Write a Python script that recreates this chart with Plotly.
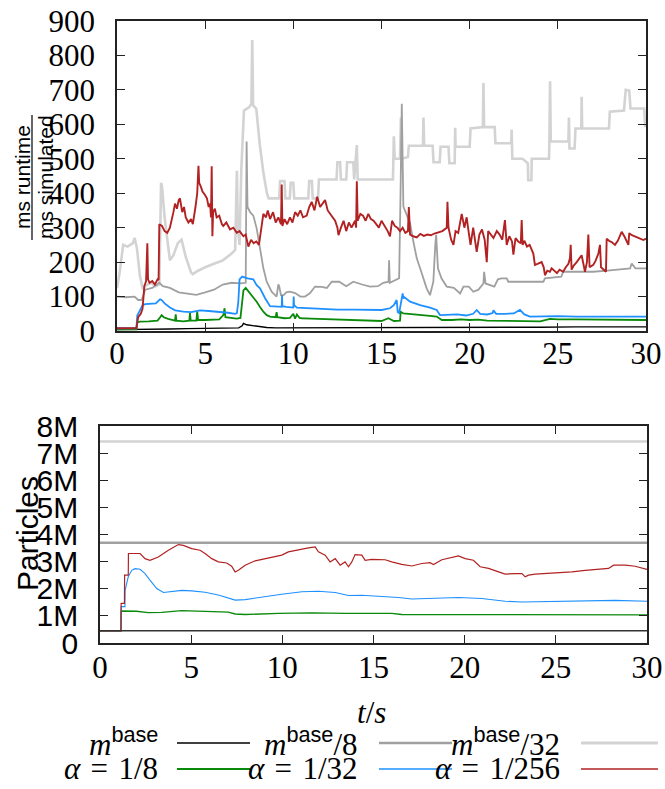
import plotly.graph_objects as go

W, H = 665, 789

# ---------------- top panel: runtime ratio (ms runtime / ms simulated) ----------------
T_M32 = [0, 0.15, 0.35, 0.6, 0.9, 1.0, 1.13, 1.3, 1.45, 1.6,
         1.9, 2.2, 2.4, 2.5, 2.55, 2.7, 3.0, 3.2, 3.45, 3.66,
         3.9, 4.2, 4.3, 4.6, 5.0, 5.5, 6.0, 6.5, 6.7, 6.8,
         6.85, 6.95, 7.05, 7.2, 7.5, 7.62, 7.67, 7.72, 7.9, 8.1,
         8.3, 8.5, 8.6, 9.2, 9.25, 9.5, 9.55, 9.8, 9.85, 10.0,
         10.05, 10.85, 10.9, 11.05, 11.1, 11.4, 11.45, 12.45, 12.5, 12.65,
         12.7, 13.0, 13.05, 13.4, 13.45, 13.6, 13.65, 15.65, 15.7, 15.75,
         16.05, 16.1, 16.15, 16.5, 16.55, 17.35, 17.38, 17.42, 17.9, 17.95,
         18.3, 18.35, 18.8, 18.85, 19.15, 19.18, 19.2, 20.0, 20.05, 20.75,
         20.78, 20.82, 21.42, 21.46, 22.36, 22.38, 22.42, 23.0, 23.3, 23.32,
         23.5, 23.52, 24.5, 24.52, 24.56, 24.6, 25.6, 25.63, 25.66, 25.95,
         26.0, 26.33, 26.35, 26.38, 27.9, 27.95, 28.75, 28.85, 29.05, 29.12,
         29.9, 29.95, 30.0]
V_M32 = [125, 170, 250, 245, 255, 270, 240, 160, 125, 130,
         140, 130, 135, 430, 420, 330, 205, 220, 255, 265,
         215, 170, 165, 175, 185, 195, 205, 225, 235, 465,
         300, 250, 470, 640, 650, 660, 845, 655, 645, 540,
         460, 400, 385, 385, 435, 435, 385, 385, 430, 430,
         385, 385, 435, 435, 385, 385, 440, 440, 490, 490,
         440, 440, 490, 490, 440, 540, 440, 440, 565, 500,
         500, 620, 500, 505, 538, 538, 620, 538, 538, 490,
         490, 535, 535, 487, 487, 590, 535, 535, 588, 592,
         720, 592, 592, 545, 545, 585, 500, 500, 487, 438,
         438, 500, 500, 550, 725, 550, 550, 620, 530, 530,
         588, 588, 680, 588, 588, 637, 640, 700, 698, 646,
         646, 595, 595]

T_M8 = [0, 0.5, 1.0, 1.2, 1.4, 1.6, 2.0, 2.4, 2.6, 3.0,
        3.5, 4.0, 4.5, 5.0, 5.5, 6.0, 6.5, 7.0, 7.3, 7.35,
        7.4, 7.55, 7.73, 7.92, 8.11, 8.3, 8.49, 8.77, 9.05, 9.15,
        9.2, 9.3, 9.45, 9.6, 9.8, 10.1, 10.4, 10.66, 10.95, 11.23,
        11.6, 11.9, 12.18, 12.6, 13.0, 13.4, 13.9, 14.35, 14.8, 15.1,
        15.4, 15.43, 15.47, 15.7, 16.0, 16.08, 16.15, 16.24, 16.43, 16.62,
        16.81, 17.0, 17.19, 17.38, 17.56, 17.75, 17.94, 18.05, 18.1, 18.2,
        18.4, 18.7, 19.1, 19.46, 19.65, 19.95, 20.21, 20.5, 20.78, 20.82,
        20.9, 21.4, 21.6, 21.8, 22.1, 22.19, 23.0, 24.18, 24.27, 25.2,
        25.3, 27.0, 27.8, 29.0, 29.1, 29.19, 29.4, 30.0]
V_M8 = [100, 98, 100, 90, 90, 120, 125, 140, 130, 125,
        112, 108, 105, 112, 120, 135, 140, 138, 140, 550,
        360, 345, 335, 298, 240, 182, 143, 114, 100, 135,
        130, 104, 104, 112, 114, 110, 100, 100, 110, 129,
        128, 125, 143, 143, 130, 143, 135, 129, 130, 140,
        143, 205, 140, 145, 153, 400, 660, 361, 337, 313,
        259, 211, 182, 153, 124, 104, 143, 250, 279, 182,
        153, 129, 125, 109, 129, 129, 114, 120, 138, 172,
        138, 129, 150, 153, 153, 143, 143, 143, 153, 158,
        172, 172, 175, 182, 182, 196, 182, 182]

T_BASE = [0, 1.0, 2.0, 3.0, 4.0, 5.0, 6.0, 6.9, 7.1, 7.17,
          7.35, 7.73, 8.11, 8.49, 9.0, 10.0, 12.0, 14.0, 16.0, 18.0,
          20.0, 22.0, 24.0, 26.0, 28.0, 30.0]
V_BASE = [4, 4, 6, 6, 7, 7, 8, 9, 15, 22,
          18, 15, 12, 10, 9, 9, 9, 9, 10, 10,
          10, 11, 11, 12, 12, 12]

T_A8 = [0, 1.1, 1.15, 1.3, 1.8, 2.3, 2.45, 2.53, 2.65, 2.9,
        3.29, 3.33, 3.37, 3.76, 4.1, 4.14, 4.18, 4.5, 4.55, 4.6,
        5.0, 5.28, 5.5, 5.8, 6.03, 6.1, 6.15, 6.4, 6.79, 7.0,
        7.1, 7.17, 7.3, 7.54, 7.73, 7.92, 8.11, 8.3, 8.49, 8.68,
        9.0, 9.05, 9.1, 9.5, 9.81, 10.0, 10.1, 10.2, 10.35, 10.5,
        11.0, 12.0, 13.0, 14.0, 15.0, 15.39, 15.7, 16.05, 16.09, 16.24,
        16.8, 17.19, 17.75, 18.13, 18.42, 19.0, 19.5, 20.0, 20.5, 21.0,
        22.0, 22.85, 23.5, 24.0, 24.56, 25.0, 26.0, 27.0, 28.0, 29.0,
        30.0]
V_A8 = [5, 5, 25, 27, 28, 30, 40, 46, 40, 35,
        30, 48, 30, 28, 30, 52, 30, 30, 56, 32,
        32, 32, 33, 34, 46, 66, 40, 38, 36, 38,
        95, 118, 125, 110, 100, 85, 70, 56, 46, 42,
        40, 55, 40, 37, 38, 50, 36, 48, 38, 37,
        36, 34, 32, 30, 29, 37, 29, 30, 56, 51,
        49, 46, 44, 42, 32, 32, 34, 32, 33, 30,
        29, 27, 27, 28, 35, 34, 34, 33, 32, 32,
        32]

T_A32 = [0, 1.1, 1.15, 1.3, 1.45, 1.6, 1.9, 2.2, 2.44, 2.53,
         2.7, 3.0, 3.3, 3.76, 4.2, 4.71, 5.2, 5.84, 6.3, 6.7,
         6.8, 6.88, 6.95, 7.1, 7.4, 7.73, 7.92, 8.11, 8.4, 8.68,
         9.0, 9.34, 9.36, 9.38, 9.6, 9.9, 10.0, 10.02, 10.04, 10.2,
         10.8, 11.5, 12.5, 13.5, 14.35, 15.0, 15.48, 15.7, 15.86, 15.92,
         16.0, 16.1, 16.2, 16.24, 16.3, 16.62, 17.19, 17.75, 18.13, 18.32,
         18.8, 19.3, 19.8, 20.2, 20.4, 20.6, 21.0, 21.3, 21.35, 21.5,
         22.0, 22.5, 22.85, 23.1, 23.42, 24.0, 25.0, 26.0, 27.0, 28.0,
         29.0, 30.0]
V_A32 = [8, 8, 45, 62, 75, 78, 80, 80, 92, 90,
         80, 68, 60, 56, 55, 60, 58, 56, 53, 50,
         52, 85, 150, 158, 153, 150, 133, 124, 95, 72,
         71, 70, 104, 72, 70, 68, 68, 100, 75, 68,
         66, 64, 62, 62, 61, 61, 66, 75, 90, 55,
         52, 80, 109, 95, 98, 85, 75, 68, 61, 46,
         46, 48, 45, 50, 61, 50, 48, 52, 60, 50,
         50, 51, 61, 48, 42, 43, 43, 42, 42, 42,
         42, 42]

T_A256 = [0, 1.1, 1.2, 1.35, 1.45, 1.55, 1.65, 1.7, 1.72, 1.76,
          1.85, 2.0, 2.15, 2.3, 2.36, 2.4, 2.55, 2.7, 2.85, 3.0,
          3.1, 3.2, 3.29, 3.4, 3.5, 3.57, 3.7, 3.8, 3.9, 4.05,
          4.2, 4.3, 4.45, 4.55, 4.62, 4.66, 4.75, 4.85, 4.99, 5.1,
          5.2, 5.28, 5.33, 5.37, 5.41, 5.45, 5.55, 5.65, 5.8, 5.95,
          6.03, 6.2, 6.41, 6.6, 6.79, 6.95, 7.17, 7.3, 7.45, 7.6,
          7.75, 7.9, 8.05, 8.15, 8.3, 8.45, 8.55, 8.68, 8.85, 9.0,
          9.15, 9.3, 9.34, 9.38, 9.5, 9.65, 9.81, 9.95, 10.1, 10.25,
          10.4, 10.55, 10.76, 10.9, 11.04, 11.2, 11.35, 11.52, 11.65, 11.8,
          11.95, 12.1, 12.25, 12.37, 12.5, 12.56, 12.7, 12.85, 13.0, 13.15,
          13.3, 13.5, 13.56, 13.6, 13.65, 13.8, 13.95, 14.1, 14.25, 14.4,
          14.55, 14.7, 14.85, 15.0, 15.2, 15.35, 15.48, 15.6, 15.75, 15.9,
          16.05, 16.2, 16.35, 16.5, 16.55, 16.62, 16.8, 17.0, 17.2, 17.4,
          17.6, 17.8, 18.0, 18.2, 18.45, 18.7, 18.74, 18.8, 18.95, 19.08,
          19.2, 19.35, 19.55, 19.7, 19.83, 19.95, 20.05, 20.2, 20.4, 20.55,
          20.7, 20.85, 20.97, 21.05, 21.2, 21.35, 21.54, 21.7, 21.85, 22.0,
          22.1, 22.25, 22.4, 22.48, 22.6, 22.75, 22.9, 22.95, 23.0, 23.1,
          23.25, 23.4, 23.61, 23.7, 23.85, 24.08, 24.2, 24.27, 24.4, 24.55,
          24.65, 24.8, 24.95, 25.1, 25.3, 25.45, 25.6, 25.69, 25.73, 25.78,
          25.9, 26.07, 26.2, 26.35, 26.54, 26.65, 26.73, 26.8, 27.01, 27.15,
          27.3, 27.39, 27.45, 27.6, 27.73, 27.77, 27.9, 28.05, 28.24, 28.4,
          28.62, 28.8, 29.0, 29.05, 29.2, 29.5, 29.85, 30.0]
V_A256 = [8, 8, 40, 50, 65, 130, 145, 250, 255, 150,
          140, 145, 135, 150, 148, 310, 305, 290, 285, 300,
          320, 345, 370, 355, 380, 385, 345, 360, 330, 315,
          325, 310, 360, 400, 480, 430, 420, 405, 395, 385,
          360, 370, 330, 478, 275, 345, 355, 330, 335, 310,
          305, 315, 295, 300, 285, 290, 275, 280, 245, 265,
          255, 260, 250, 290, 340, 330, 350, 325, 345, 315,
          330, 310, 425, 305, 325, 310, 330, 315, 345, 335,
          350, 330, 335, 360, 375, 350, 390, 360, 370, 380,
          350, 340, 330, 320, 300, 278, 300, 320, 290, 315,
          300, 320, 300, 435, 320, 340, 335, 320, 340, 325,
          320, 310, 300, 320, 305, 290, 275, 320, 305, 300,
          290, 300, 285, 290, 360, 280, 275, 272, 282, 276,
          280, 278, 283, 286, 290, 300, 375, 300, 265, 250,
          290, 285, 340, 300, 330, 285, 250, 300, 230, 280,
          295, 265, 200, 290, 280, 270, 290, 280, 265, 322,
          250, 275, 260, 222, 270, 260, 255, 322, 250, 262,
          245, 250, 225, 192, 195, 200, 185, 162, 175, 172,
          182, 175, 168, 178, 172, 185, 195, 212, 250, 178,
          190, 200, 210, 220, 172, 200, 280, 185, 192, 205,
          225, 250, 185, 178, 172, 268, 262, 258, 250, 262,
          288, 272, 250, 284, 278, 272, 264, 268]

# ---------------- bottom panel: particles (millions) ----------------
PT_FLAT = [0, 30]
P_BASE = [0.45, 0.45]
P_M8 = [3.70, 3.70]
P_M32 = [7.43, 7.43]

PT_A8 = [0, 1.15, 1.16, 2.0, 2.65, 3.38, 4.48, 5.21, 6.13, 7.04,
         7.41, 7.96, 9.79, 11.61, 13.44, 14.54, 16.0, 16.55, 20.03, 22.77,
         26.0, 30.0]
P_A8 = [0.45, 0.45, 1.18, 1.17, 1.12, 1.13, 1.19, 1.17, 1.14, 1.14,
        1.07, 1.05, 1.09, 1.11, 1.09, 1.10, 1.09, 1.05, 1.05, 1.03,
        1.03, 1.04]

PT_A32 = [0, 1.15, 1.16, 1.37, 1.38, 1.55, 1.74, 1.92, 2.2, 2.47,
          2.74, 3.11, 3.48, 3.93, 4.48, 5.03, 5.76, 6.49, 7.04, 7.41,
          7.96, 8.87, 9.97, 11.07, 11.98, 12.9, 13.63, 14.36, 15.45, 16.37,
          17.1, 18.2, 19.66, 20.94, 22.22, 23.14, 24.6, 26.43, 28.26, 30.0]
P_A32 = [0.45, 0.45, 1.34, 1.34, 1.95, 2.44, 2.68, 2.74, 2.72, 2.56,
         2.32, 2.01, 1.86, 1.89, 1.94, 1.92, 1.87, 1.77, 1.64, 1.58,
         1.6, 1.7, 1.8, 1.89, 1.91, 1.86, 1.75, 1.76, 1.73, 1.68,
         1.62, 1.64, 1.68, 1.64, 1.54, 1.51, 1.53, 1.56, 1.57, 1.54]

PT_A256 = [0, 1.15, 1.16, 1.34, 1.35, 1.55, 1.56, 2.2, 2.47, 2.74,
           3.2, 3.75, 4.3, 4.57, 5.03, 5.49, 5.76, 6.13, 6.49, 6.95,
           7.22, 7.41, 7.59, 7.96, 8.51, 9.05, 9.6, 9.97, 10.33, 10.88,
           11.43, 11.8, 11.98, 12.35, 12.62, 12.9, 13.17, 13.44, 13.63, 13.81,
           13.99, 14.36, 14.54, 14.9, 15.28, 15.64, 16.0, 16.55, 17.1, 17.65,
           18.1, 18.29, 18.75, 19.3, 19.66, 20.03, 20.48, 20.85, 21.31, 21.86,
           22.22, 22.77, 23.14, 23.32, 23.5, 23.87, 24.42, 25.15, 25.88, 26.61,
           27.34, 27.89, 28.17, 28.81, 29.35, 29.72, 30.0]
P_A256 = [0.45, 0.45, 1.46, 1.46, 2.5, 2.5, 3.3, 3.3, 3.11, 3.05,
          3.17, 3.42, 3.63, 3.6, 3.48, 3.42, 3.30, 3.11, 2.99, 2.95,
          2.83, 2.62, 2.68, 2.87, 3.03, 3.11, 3.2, 3.24, 3.36, 3.44,
          3.51, 3.54, 3.36, 3.24, 2.99, 3.11, 2.87, 2.99, 2.81, 2.99,
          3.26, 3.24, 3.05, 3.08, 3.08, 3.07, 2.99, 2.9, 2.84, 2.93,
          2.96, 2.89, 3.07, 3.17, 3.21, 3.11, 3.05, 2.81, 2.75, 2.62,
          2.54, 2.56, 2.56, 2.44, 2.5, 2.54, 2.56, 2.6, 2.62, 2.68,
          2.71, 2.75, 2.87, 2.87, 2.83, 2.75, 2.71]

X_TICKS = [0, 5, 10, 15, 20, 25, 30]
Y1_TICKS = [0, 100, 200, 300, 400, 500, 600, 700, 800, 900]
Y2_TICKS = [0, 1, 2, 3, 4, 5, 6, 7, 8]
Y2_TICKTEXT = ["0", "1M", "2M", "3M", "4M", "5M", "6M", "7M", "8M"]

C_BASE = "#000000"
C_M8 = "#a0a0a0"
C_M32 = "#d3d3d3"
C_A8 = "#0a8a0a"
C_A32 = "#1e90ff"
C_A256 = "#b22222"

SERIF = "Liberation Serif, DejaVu Serif, serif"
SANS = "Liberation Sans, Arial, sans-serif"

fig = go.Figure()

def line(x, y, color, width, ax):
    xa, ya = ("x", "y") if ax == 1 else ("x2", "y2")
    fig.add_trace(go.Scatter(x=x, y=y, mode="lines", xaxis=xa, yaxis=ya,
                             line=dict(color=color, width=width),
                             showlegend=False, hoverinfo="skip"))

# top panel
line(T_M32, V_M32, C_M32, 2.6, 1)
line(T_M8, V_M8, C_M8, 1.8, 1)
line(T_BASE, V_BASE, C_BASE, 1.4, 1)
line(T_A8, V_A8, C_A8, 1.8, 1)
line(T_A32, V_A32, C_A32, 1.8, 1)
line(T_A256, V_A256, C_A256, 1.9, 1)

# bottom panel
line(PT_FLAT, P_M32, C_M32, 2.5, 2)
line(PT_FLAT, P_M8, C_M8, 2.5, 2)
line(PT_A8, P_A8, C_A8, 1.3, 2)
line(PT_A32, P_A32, C_A32, 1.1, 2)
line(PT_A256, P_A256, C_A256, 1.2, 2)
line(PT_FLAT, P_BASE, "#333333", 1.5, 2)

def px(x):
    return x / W

def py(y):
    return 1 - y / H

axis_common = dict(showline=True, linecolor="#222", linewidth=1.5, mirror="allticks",
                   ticks="inside", ticklen=8, tickwidth=1.2, tickcolor="#222",
                   showgrid=False, zeroline=False, automargin=False)

fig.update_layout(
    width=W, height=H,
    margin=dict(l=0, r=0, t=0, b=0),
    paper_bgcolor="white", plot_bgcolor="white",
    showlegend=False,
    xaxis=dict(domain=[px(117), px(646)], range=[0, 30], tickvals=X_TICKS,
               tickfont=dict(family=SERIF, size=31, color="black"),
               ticklabelstandoff=-6, anchor="y", **axis_common),
    yaxis=dict(domain=[py(331), py(21)], range=[0, 900], tickvals=Y1_TICKS,
               tickfont=dict(family=SERIF, size=31, color="black"),
               ticklabelstandoff=14, anchor="x", **axis_common),
    xaxis2=dict(domain=[px(100), px(647)], range=[0, 30], tickvals=X_TICKS,
                tickfont=dict(family=SERIF, size=31, color="black"),
                ticklabelstandoff=-4, anchor="y2", **axis_common),
    yaxis2=dict(domain=[py(643), py(426)], range=[0, 8], tickvals=Y2_TICKS,
                ticktext=Y2_TICKTEXT,
                tickfont=dict(family=SANS, size=30, color="black"),
                ticklabelstandoff=14, anchor="x2", **axis_common),
)

ann = []
shapes = []
# top y label as a fraction
ann.append(dict(text="ms runtime", x=px(22), y=py(177), xref="paper", yref="paper",
                textangle=-90, showarrow=False, xanchor="center", yanchor="middle",
                font=dict(family=SANS, size=21, color="black")))
ann.append(dict(text="ms simulated", x=px(45), y=py(177), xref="paper", yref="paper",
                textangle=-90, showarrow=False, xanchor="center", yanchor="middle",
                font=dict(family=SANS, size=21, color="black")))
shapes.append(dict(type="line", xref="paper", yref="paper", x0=px(32), x1=px(32),
                   y0=py(115), y1=py(240), line=dict(color="black", width=1.2)))
# bottom y label
ann.append(dict(text="Particles", x=px(27), y=py(534), xref="paper", yref="paper",
                textangle=-90, showarrow=False, xanchor="center", yanchor="middle",
                font=dict(family=SANS, size=30, color="black")))
# x title
ann.append(dict(text="<i>t</i>/<i>s</i>", x=px(372), y=py(712), xref="paper", yref="paper",
                showarrow=False, xanchor="center", yanchor="middle",
                font=dict(family=SERIF, size=31, color="black")))

SUP = "<sup><span style='font-family:Liberation Sans'>base</span></sup>"
SP = "\u2004"
LEGEND = [
    ("<i>m</i>" + SUP, C_BASE, 1.6, 160, 742, 177, 250),
    ("<i>m</i>" + SUP + "/8", C_M8, 2.5, 360, 742, 379, 452),
    ("<i>m</i>" + SUP + "/32", C_M32, 2.8, 562, 742, 581, 658),
    ("<i>α</i>" + SP + "=" + SP + "1/8", C_A8, 1.8, 160, 768, 177, 250),
    ("<i>α</i>" + SP + "=" + SP + "1/32", C_A32, 1.6, 360, 768, 379, 452),
    ("<i>α</i>" + SP + "=" + SP + "1/256", C_A256, 1.6, 562, 768, 581, 658),
]
for txt, col, lw, tx, ty, l0, l1 in LEGEND:
    ann.append(dict(text=txt, x=px(tx), y=py(ty), xref="paper", yref="paper",
                    showarrow=False, xanchor="right", yanchor="middle",
                    font=dict(family=SERIF, size=31, color="black")))
    shapes.append(dict(type="line", xref="paper", yref="paper", x0=px(l0), x1=px(l1),
                       y0=py(ty + 1), y1=py(ty + 1), line=dict(color=col, width=lw)))

fig.update_layout(annotations=ann, shapes=shapes)
fig.write_html("out.html",
               config={"displayModeBar": False},
               post_script="document.body.style.margin='0px';"
                           "document.body.style.padding='0px';"
                           "document.body.style.overflow='hidden';")
